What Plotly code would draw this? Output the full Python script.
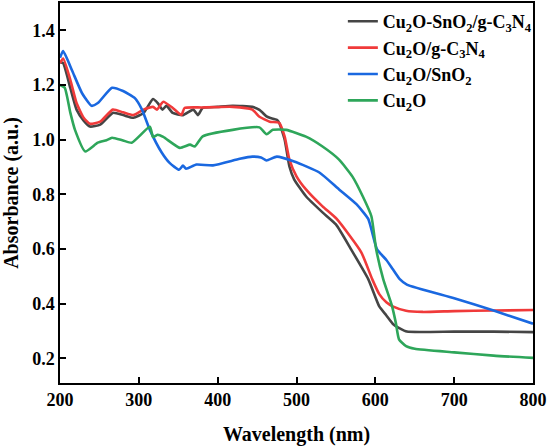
import plotly.graph_objects as go

# Cu2O-SnO2/g-C3N4 (black)
wl_cst = [200, 204, 213, 221, 230, 238, 251, 267, 280, 293, 306, 318, 324, 330, 335, 343,
          356, 369, 375, 381, 400, 419, 444, 453, 462, 466, 475, 478, 485, 491, 497, 512,
          533, 550, 569, 591, 605, 614, 622, 631, 640, 700, 750, 800]
abs_cst = [1.284, 1.28, 1.19, 1.11, 1.07, 1.048, 1.055, 1.098, 1.09, 1.08, 1.098, 1.149, 1.134, 1.11, 1.124, 1.098,
           1.09, 1.11, 1.09, 1.116, 1.12, 1.124, 1.12, 1.109, 1.085, 1.08, 1.073, 1.062, 1.0, 0.902, 0.855, 0.793,
           0.734, 0.69, 0.6, 0.49, 0.39, 0.357, 0.327, 0.31, 0.298, 0.298, 0.298, 0.296]

# Cu2O/g-C3N4 (red)
wl_cg = [200, 204, 213, 221, 230, 238, 251, 267, 280, 293, 306, 318, 323, 331, 343, 354,
         358, 380, 419, 444, 453, 466, 478, 485, 491, 500, 512, 533, 551, 582, 596, 605,
         614, 622, 639, 660, 700, 750, 800]
abs_cg = [1.28, 1.297, 1.22, 1.134, 1.08, 1.058, 1.066, 1.11, 1.1, 1.09, 1.11, 1.12, 1.11, 1.139, 1.116, 1.09,
          1.116, 1.118, 1.12, 1.11, 1.084, 1.066, 1.062, 1.011, 0.927, 0.866, 0.818, 0.756, 0.71, 0.589, 0.49, 0.435,
          0.405, 0.39, 0.374, 0.37, 0.373, 0.375, 0.377]

# Cu2O/SnO2 (blue)
wl_cs = [200, 204, 215, 228, 240, 248, 266, 280, 295, 304, 314, 329, 339, 351, 356, 360,
         373, 394, 428, 444, 455, 462, 475, 497, 529, 554, 576, 591, 602, 614, 622, 631,
         640, 700, 750, 800]
abs_cs = [1.30, 1.324, 1.255, 1.17, 1.124, 1.134, 1.19, 1.178, 1.152, 1.11, 1.036, 0.953, 0.915, 0.89, 0.905, 0.894,
          0.909, 0.906, 0.93, 0.938, 0.935, 0.924, 0.938, 0.92, 0.88, 0.818, 0.764, 0.71, 0.6, 0.56, 0.527, 0.49,
          0.47, 0.42, 0.375, 0.327]

# Cu2O (green)
wl_c = [200, 206, 213, 219, 232, 248, 259, 266, 280, 291, 314, 318, 324, 331, 352, 365,
        371, 381, 419, 453, 462, 470, 487, 512, 533, 554, 571, 584, 595, 601, 610, 621,
        626, 630, 639, 650, 700, 750, 800]
abs_c = [1.2, 1.19, 1.1, 1.036, 0.957, 0.989, 0.998, 1.007, 0.997, 0.989, 1.047, 1.01, 1.018, 1.01, 0.97, 0.982,
         0.975, 1.012, 1.036, 1.045, 1.02, 1.036, 1.036, 1.011, 0.975, 0.927, 0.865, 0.793, 0.72, 0.6, 0.49, 0.393,
         0.33, 0.27, 0.245, 0.235, 0.222, 0.21, 0.202]

names = ["Cu<sub>2</sub>O-SnO<sub>2</sub>/g-C<sub>3</sub>N<sub>4</sub>",
         "Cu<sub>2</sub>O/g-C<sub>3</sub>N<sub>4</sub>",
         "Cu<sub>2</sub>O/SnO<sub>2</sub>",
         "Cu<sub>2</sub>O"]
colors = ["#454545", "#f03a3a", "#1a68e0", "#2ea65a"]

fig = go.Figure()
series = [(wl_cst, abs_cst), (wl_cg, abs_cg), (wl_cs, abs_cs), (wl_c, abs_c)]
for (x, y), name, col in zip(series, names, colors):
    fig.add_trace(go.Scatter(x=x, y=y, mode='lines', name=name,
                             line=dict(color=col, width=2.6, shape='spline', smoothing=0.5)))

font_fam = "Liberation Serif, Times New Roman, serif"
axis_style = dict(showline=True, linecolor="black", linewidth=1.5, mirror=True,
                  ticks="inside", ticklen=6, tickwidth=1.5, tickcolor="black",
                  showgrid=False, zeroline=False, automargin=False,
                  tickfont=dict(family=font_fam, size=18, color="black", weight="bold"))

fig.update_layout(
    width=550, height=447,
    margin=dict(l=60, r=17, t=3, b=64),
    plot_bgcolor="white", paper_bgcolor="white",
    font=dict(family=font_fam, color="black"),
    xaxis=dict(range=[200, 800], dtick=100,
               title=dict(text="Wavelength (nm)", font=dict(family=font_fam, size=20, weight="bold"), standoff=18),
               **axis_style),
    yaxis=dict(range=[0.11, 1.5], tickvals=[0.2, 0.4, 0.6, 0.8, 1.0, 1.2, 1.4], ticktext=["0.2", "0.4", "0.6", "0.8", "1.0", "1.2", "1.4"],
               title=dict(text="Absorbance (a.u.)", font=dict(family=font_fam, size=20, weight="bold"), standoff=8),
               **axis_style),
    legend=dict(x=0.598, y=1.0, xanchor="left", yanchor="top", bgcolor="rgba(0,0,0,0)",
                font=dict(family=font_fam, size=18, color="black", weight="bold"),
                tracegroupgap=0),
)

fig.write_html("out.html", config={"displayModeBar": False},
               post_script="document.body.style.margin='0';")
